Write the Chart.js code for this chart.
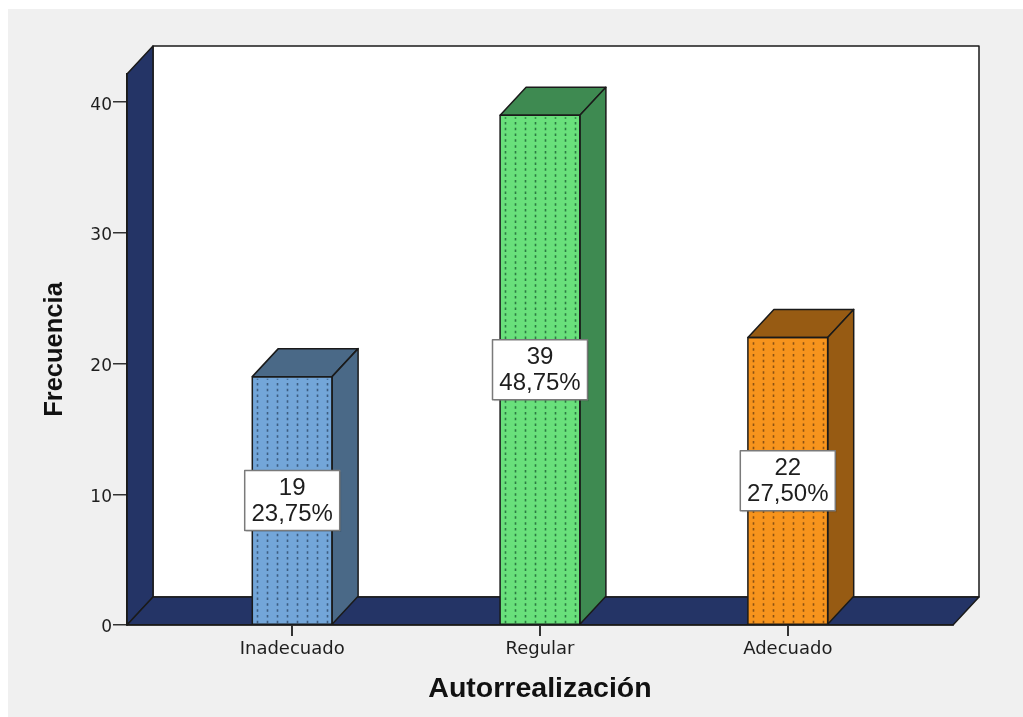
<!DOCTYPE html>
<html>
<head>
<meta charset="utf-8">
<title>Autorrealización</title>
<script src="https://cdn.jsdelivr.net/npm/chart.js@4"></script>
<style>
  html, body { margin: 0; padding: 0; background: #ffffff; }
  canvas { display: block; }
</style>
</head>
<body>
<canvas id="chart" width="1023" height="717" style="width:1023px;height:717px"></canvas>
<script>
// ---- data ----
const categories = ['Inadecuado', 'Regular', 'Adecuado'];
const frequencies = [19, 39, 22];
const yTickValues = [0, 10, 20, 30, 40];
const xAxisTitle = 'Autorrealización';
const yAxisTitle = 'Frecuencia';

// ---- styles ----
const faceColors  = ['#73a6d9', '#69e07b', '#f7941d'];
const shadeColors = ['#4a6987', '#3e8a51', '#975b13'];
const dotColors   = ['#3d5c80', '#2c7a42', '#8a5214'];
const navy = '#243466';
const edge = '#1a1a1a';
const DEPTH_X = 26;   // horizontal offset of the 3D depth
const DEPTH_Y = 28;   // vertical offset of the 3D depth

const total = frequencies.reduce((a, b) => a + b, 0);
const percentText = v => (v / total * 100).toFixed(2).replace('.', ',') + '%';

function polygon(ctx, pts, fill, stroke) {
  ctx.beginPath();
  ctx.moveTo(pts[0][0], pts[0][1]);
  for (let i = 1; i < pts.length; i++) ctx.lineTo(pts[i][0], pts[i][1]);
  ctx.closePath();
  if (fill) { ctx.fillStyle = fill; ctx.fill(); }
  if (stroke) { ctx.strokeStyle = stroke; ctx.stroke(); }
}

// Background, back wall, left wall and floor of the 3D box
const boxFrame = {
  id: 'boxFrame',
  beforeDraw(chart) {
    const { ctx, chartArea: a } = chart;
    const L = a.left, R = a.right, T = a.top, B = a.bottom;
    ctx.save();
    ctx.fillStyle = '#ffffff';
    ctx.fillRect(0, 0, chart.width, chart.height);
    ctx.fillStyle = '#f0f0f0';
    ctx.fillRect(8, 9, chart.width - 8, chart.height - 9);

    ctx.lineWidth = 1.5;
    ctx.lineJoin = 'round';
    // back wall
    polygon(ctx, [[L + DEPTH_X, T - DEPTH_Y], [R + DEPTH_X, T - DEPTH_Y],
                  [R + DEPTH_X, B - DEPTH_Y], [L + DEPTH_X, B - DEPTH_Y]], '#ffffff', edge);
    // left wall
    polygon(ctx, [[L, T], [L + DEPTH_X, T - DEPTH_Y], [L + DEPTH_X, B - DEPTH_Y], [L, B]], navy, edge);
    // floor
    polygon(ctx, [[L, B], [L + DEPTH_X, B - DEPTH_Y], [R + DEPTH_X, B - DEPTH_Y], [R, B]], navy, edge);
    ctx.restore();
  }
};

// Depth faces, dotted texture, outlines and value boxes of each bar
const barDepth = {
  id: 'barDepth',
  afterDatasetsDraw(chart) {
    const ctx = chart.ctx;
    const meta = chart.getDatasetMeta(0);
    meta.data.forEach((bar, i) => {
      const { x, y, base, width } = bar.getProps(['x', 'y', 'base', 'width'], true);
      const L = x - width / 2, R = x + width / 2, T = y, B = base;
      ctx.save();

      // dotted vertical texture on the front face
      ctx.strokeStyle = dotColors[i];
      ctx.lineWidth = 1.6;
      ctx.setLineDash([2.5, 3.3]);
      const n = 8, gap = 10;
      const start = L + (width - gap * (n - 1)) / 2;
      for (let k = 0; k < n; k++) {
        const px = Math.round(start + k * gap) + 0.5;
        ctx.beginPath();
        ctx.moveTo(px, B - 1);
        ctx.lineTo(px, T + 2);
        ctx.stroke();
      }
      ctx.setLineDash([]);

      ctx.lineWidth = 1.5;
      ctx.lineJoin = 'round';
      // top face
      polygon(ctx, [[L, T], [L + DEPTH_X, T - DEPTH_Y], [R + DEPTH_X, T - DEPTH_Y], [R, T]], shadeColors[i], edge);
      // side face
      polygon(ctx, [[R, T], [R + DEPTH_X, T - DEPTH_Y], [R + DEPTH_X, B - DEPTH_Y], [R, B]], shadeColors[i], edge);
      // front outline
      ctx.strokeStyle = edge;
      ctx.strokeRect(L, T, width, B - T);

      // value box in the middle of the front face
      const v = frequencies[i];
      const cy = (T + B) / 2;
      const bw = 95, bh = 60;
      ctx.fillStyle = 'rgba(0,0,0,0.12)';
      ctx.fillRect(x - bw / 2 + 1.5, cy - bh / 2 + 1.5, bw, bh);
      ctx.fillStyle = '#ffffff';
      ctx.fillRect(x - bw / 2, cy - bh / 2, bw, bh);
      ctx.strokeStyle = '#7a7a7a';
      ctx.lineWidth = 1.5;
      ctx.strokeRect(x - bw / 2, cy - bh / 2, bw, bh);
      ctx.fillStyle = '#1e1e1e';
      ctx.font = '24px "Liberation Sans", Arial, sans-serif';
      ctx.textAlign = 'center';
      ctx.textBaseline = 'middle';
      ctx.fillText(String(v), x, cy - 12.5);
      ctx.fillText(percentText(v), x, cy + 13.5);
      ctx.restore();
    });
  }
};

new Chart(document.getElementById('chart'), {
  type: 'bar',
  data: {
    datasets: [{
      data: categories.map((c, i) => ({ x: i + 1, y: frequencies[i] })),
      backgroundColor: faceColors,
      borderWidth: 0,
      barPercentage: 0.322,
      categoryPercentage: 1
    }]
  },
  options: {
    responsive: false,
    animation: false,
    devicePixelRatio: 1,
    layout: { padding: { top: 74, right: 70, bottom: 0, left: 0 } },
    plugins: {
      legend: { display: false },
      tooltip: { enabled: false }
    },
    scales: {
      x: {
        type: 'linear',
        bounds: 'data',
        offset: false,
        min: 1 / 3,
        max: 11 / 3,
        afterBuildTicks: s => { s.ticks = categories.map((c, i) => ({ value: i + 1 })); },
        afterFit: s => { s.height = 92; },
        ticks: {
          callback: v => categories[v - 1],
          autoSkip: false,
          maxRotation: 0,
          padding: 3,
          color: '#1e1e1e',
          font: { family: 'DejaVu Sans', size: 18 }
        },
        grid: { display: true, offset: false, drawOnChartArea: false, drawTicks: true, tickLength: 11, color: '#333333', lineWidth: 2 },
        border: { display: true, color: edge, width: 1.5 },
        title: {
          display: true,
          text: xAxisTitle,
          color: '#111111',
          font: { family: 'Liberation Sans', size: 28.5, weight: 'bold' },
          padding: { top: 0, bottom: 11 }
        }
      },
      y: {
        bounds: 'data',
        min: 0,
        max: 42.15,
        afterBuildTicks: s => { s.ticks = yTickValues.map(v => ({ value: v })); },
        afterFit: s => { s.width = 127; },
        ticks: {
          padding: 1,
          labelOffset: 3,
          color: '#1e1e1e',
          font: { family: 'DejaVu Sans', size: 17 }
        },
        grid: { display: true, drawOnChartArea: false, drawTicks: true, tickLength: 14, color: '#333333', lineWidth: 1.5 },
        border: { display: true, color: edge, width: 1.5 },
        title: {
          display: true,
          text: yAxisTitle,
          color: '#111111',
          font: { family: 'Liberation Sans', size: 25.5, weight: 'bold' },
          padding: { top: 40, bottom: 0 }
        }
      }
    }
  },
  plugins: [boxFrame, barDepth]
});
</script>
</body>
</html>
